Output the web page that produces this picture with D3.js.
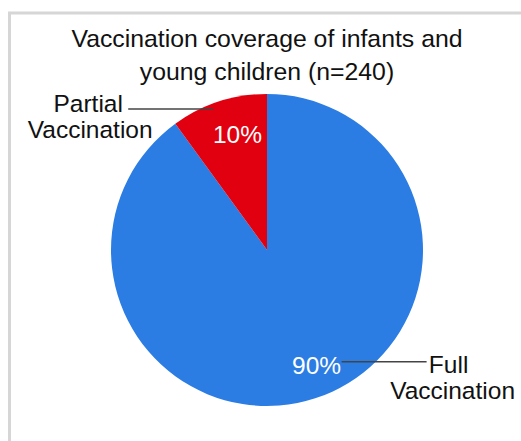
<!DOCTYPE html>
<html>
<head>
<meta charset="utf-8">
<title>Vaccination coverage</title>
<style>
  body { margin: 0; background: #fff; }
  text { font-family: Arial, 'Liberation Sans', sans-serif; }
</style>
<script src="https://d3js.org/d3.v7.min.js"></script>
</head>
<body>
<div id="chart"></div>
<script>
// ******* Data *******
const categories = ["Full Vaccination", "Partial Vaccination"];
const labelLines = [["Full", "Vaccination"], ["Partial", "Vaccination"]];
const percents = [90, 10];
const colors = ["#2b7de3", "#e1000f"];
const titleLines = ["Vaccination coverage of infants and", "young children (n=240)"];

// ******* Constants *******
const width = 521, height = 441;
const cx = 267, cy = 250, radius = 156;

const svg = d3.select("#chart").append("svg")
    .attr("width", width)
    .attr("height", height);

// frame (the chart box sits partly off the picture)
svg.append("rect")
    .attr("x", 9.5).attr("y", 13)
    .attr("width", width + 20).attr("height", height + 20)
    .attr("fill", "none")
    .attr("stroke", "#d6d6d6")
    .attr("stroke-width", 3);

// title
svg.append("g").selectAll("text")
    .data(titleLines)
    .join("text")
    .attr("x", cx)
    .attr("y", (d, i) => 47 + i * 33)
    .attr("text-anchor", "middle")
    .attr("font-size", 24.8)
    .attr("fill", "#111")
    .text(d => d);

const pie = d3.pie().sort(null).value(d => d);
const arcs = pie(percents);
const arc = d3.arc().innerRadius(0).outerRadius(radius);
const labelArc = d3.arc().innerRadius(radius * 0.78).outerRadius(radius * 0.78);

const g = svg.append("g").attr("transform", `translate(${cx},${cy})`);

g.selectAll("path")
    .data(arcs)
    .join("path")
    .attr("d", arc)
    .attr("fill", (d, i) => colors[i]);

// point at mid angle, k = fraction of radius
function pointAt(d, k) {
  const a = (d.startAngle + d.endAngle) / 2;
  return [Math.sin(a) * radius * k, -Math.cos(a) * radius * k];
}

// percent labels
g.selectAll("text.pct")
    .data(arcs)
    .join("text")
    .attr("class", "pct")
    .attr("transform", d => {
      const c = labelArc.centroid(d);
      return `translate(${c[0] + (d.index === 0 ? 12 : 8)},${c[1]})`;
    })
    .attr("text-anchor", "middle")
    .attr("dy", "0.35em")
    .attr("font-size", 24.5)
    .attr("fill", "#fff")
    .text(d => d.data + "%");

// leader lines and category labels
arcs.forEach((d, i) => {
  const right = d.index === 0;
  let y, x0, x1, lx, dx2, dy1;
  if (right) {
    const c = labelArc.centroid(d);
    y = c[1] - 4;
    x0 = c[0] + 12 + 25;
    x1 = x0 + 85;
    lx = x1 + 22; dx2 = -17; dy1 = 11;
  } else {
    const p = pointAt(d, 0.95);
    y = p[1];
    x1 = p[0] - 8;
    x0 = x1 - 85;
    lx = x0 - 40; dx2 = 2; dy1 = 3;
  }
  g.append("line")
      .attr("x1", x0).attr("x2", x1)
      .attr("y1", y).attr("y2", y)
      .attr("stroke", "#444")
      .attr("stroke-width", 1.5);
  g.append("g").selectAll("text")
      .data(labelLines[i])
      .join("text")
      .attr("x", (t, j) => j === 0 ? lx : lx + dx2 + (right ? 21 : 0))
      .attr("y", (t, j) => y + dy1 + j * 26)
      .attr("text-anchor", "middle")
      .attr("font-size", 24.5)
      .attr("fill", "#111")
      .text(t => t);
});
</script>
</body>
</html>
